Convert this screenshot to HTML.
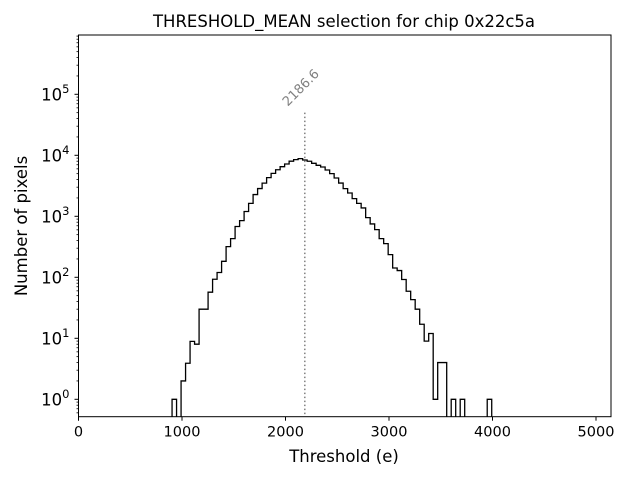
<!DOCTYPE html>
<html><head><meta charset="utf-8"><style>
html,body{margin:0;padding:0;background:#fff;}
svg{display:block;font-family:"DejaVu Sans","Liberation Sans",sans-serif;}
</style></head><body>
<svg id="chart" width="640" height="480" viewBox="0 0 640 480">
<rect x="0" y="0" width="640" height="480" fill="#fff"/>
<text x="344" y="27" text-anchor="middle" font-size="16.5">THRESHOLD_MEAN selection for chip 0x22c5a</text>
<g id="plot"></g>
<text x="344" y="462" text-anchor="middle" font-size="16.5">Threshold (e)</text>
<text x="0" y="0" transform="translate(27,226) rotate(-90)" text-anchor="middle" font-size="16.5">Number of pixels</text>
</svg>
<script>
const binStart = 904;
const binWidth = 43.5;
const counts = [1,0,2,3.9,8.9,8,30,30,57,93,120,183,318,430,680,850,1200,1630,2270,2850,3500,4300,5050,5800,6500,7200,8000,8500,
8830,8370,7980,7390,6850,6430,5740,5010,4250,3510,2840,2410,1950,1630,1370,950,750,605,430,357,235,142,129,92,59,43,30,17,9,12,1,4,4,0,1,0,1,0,0,0,0,0,1];
const meanValue = 2186.6;
const meanLineTop = 50000;
const xTicks = [0,1000,2000,3000,4000,5000];
const yTickExps = [0,1,2,3,4,5];

const L=78.5,R=611,T=35,B=416.7;
const xMin=0,xMax=5145;
const y0=399.3, dec=61.0;
function xs(v){return L+(v-xMin)/(xMax-xMin)*(R-L);}
function ys(v){return y0-Math.log10(v)*dec;}
const NS="http://www.w3.org/2000/svg";
const g=document.getElementById('plot');
function mk(t,a){const e=document.createElementNS(NS,t);for(const k in a)e.setAttribute(k,a[k]);g.appendChild(e);return e;}

let d="";
const floorY=B+5;
for(let i=0;i<counts.length;i++){
  const x1=xs(binStart+i*binWidth),x2=xs(binStart+(i+1)*binWidth);
  const c=counts[i];
  const y=c>0?ys(c):floorY;
  if(i===0)d+="M"+x1.toFixed(2)+","+floorY+" ";
  d+="L"+x1.toFixed(2)+","+y.toFixed(2)+" L"+x2.toFixed(2)+","+y.toFixed(2)+" ";
}
d+="L"+xs(binStart+counts.length*binWidth).toFixed(2)+","+floorY;
const clip=mk('clipPath',{id:'pc'});
const cr=document.createElementNS(NS,'rect');cr.setAttribute('x',L);cr.setAttribute('y',T);cr.setAttribute('width',R-L);cr.setAttribute('height',B-T);clip.appendChild(cr);
const hist=mk('path',{d:d,fill:'none',stroke:'#000','stroke-width':1.3,'clip-path':'url(#pc)'});



const mx=xs(meanValue);
const ml=mk('line',{x1:mx,x2:mx,y1:ys(meanLineTop),y2:B,stroke:'#808080','stroke-width':1.5,'stroke-dasharray':'1.5,2.5'});


const mt=mk('text',{x:0,y:0,transform:'translate('+(mx-1)+','+(ys(meanLineTop)-22)+') rotate(-45)','text-anchor':'middle','font-size':'13',fill:'#808080'});
mt.textContent=meanValue.toFixed(1);



const fr=mk('rect',{x:L,y:T,width:R-L,height:B-T,fill:'none',stroke:'#000','stroke-width':1});



xTicks.forEach(v=>{
  const x=xs(v);
  const tk=mk('line',{x1:x,x2:x,y1:B,y2:B+4,stroke:'#000','stroke-width':1});
  
  
  const t=mk('text',{x:x,y:B+20,'text-anchor':'middle','font-size':'14.5'});
  t.textContent=v;
  
  
});
yTickExps.forEach(e=>{
  const y=ys(Math.pow(10,e));
  const tk=mk('line',{x1:L-4,x2:L,y1:y,y2:y,stroke:'#000','stroke-width':1});
  
  
  const t=mk('text',{x:L-9,y:y+6,'text-anchor':'end','font-size':'16.5'});
  t.innerHTML='10<tspan dy="-7.5" font-size="11.5">'+e+'</tspan>';
  
  
});
for(let e=-1;e<=6;e++){for(let m=2;m<=9;m++){const v=m*Math.pow(10,e);const y=ys(v);if(y<T||y>B)continue;
  const tk=mk('line',{x1:L-2,x2:L,y1:y,y2:y,stroke:'#000','stroke-width':0.8});
  
  
}}
</script>
</body></html>
